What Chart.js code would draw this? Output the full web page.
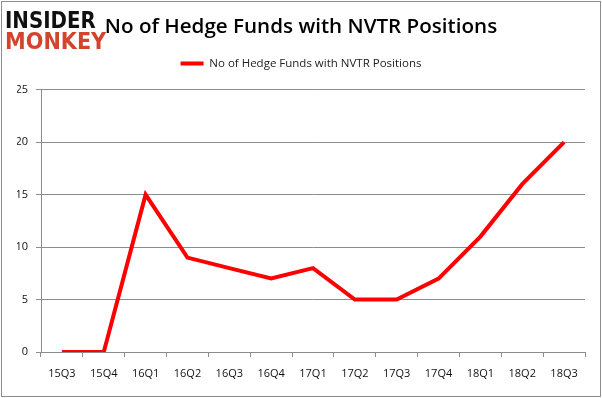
<!DOCTYPE html>
<html><head><meta charset="utf-8">
<script src="https://cdn.jsdelivr.net/npm/chart.js@4"></script>
<style>html,body{margin:0;padding:0;background:#fff}#wrap{width:602px;height:398px;position:relative}</style>
</head><body><div id="wrap"><canvas id="c" width="602" height="398"></canvas></div>
<script>
const categories = ["15Q3","15Q4","16Q1","16Q2","16Q3","16Q4","17Q1","17Q2","17Q3","17Q4","18Q1","18Q2","18Q3"];
const hedgeFunds = [0,0,15,9,8,7,8,5,5,7,11,16,20];
const seriesName = "No of Hedge Funds with NVTR Positions";
const titleText = "No of Hedge Funds with NVTR Positions";
const yTicks = [0,5,10,15,20,25];

const decor = {
  id:'decor',
  beforeInit(chart){
    const fit = chart.legend.fit;
    chart.legend.fit = function(){ fit.call(this); this.height += 10.5; };
  },
  beforeDraw(chart){
    const c = chart.ctx;
    c.save();
    c.fillStyle='#fff'; c.fillRect(0,0,chart.width,chart.height);
    c.restore();
  },
  afterDraw(chart){
    const c = chart.ctx;
    c.save();
    c.strokeStyle='#8c8c8c'; c.lineWidth=1;
    c.strokeRect(1.5,1.5,chart.width-3,chart.height-3);
    c.font='900 20px "DejaVu Sans"';
    c.textBaseline='alphabetic';
    c.fillStyle='#111';
    c.save(); c.translate(5,28); c.scale(0.99,1.15); c.fillText('INSIDER',0,0); c.restore();
    c.fillStyle='#d2452c';
    c.save(); c.translate(5,49); c.scale(1.04,1.15); c.fillText('MONKEY',0,0); c.restore();
    c.restore();
  }
};

new Chart(document.getElementById('c'),{
  type:'line',
  data:{labels:categories,datasets:[{label:seriesName,data:hedgeFunds,borderColor:'#ff0000',backgroundColor:'#ff0000',borderWidth:4,pointRadius:0,tension:0,fill:false}]},
  options:{
    responsive:false,animation:false,
    layout:{padding:{left:17,right:17,top:0,bottom:0}},
    plugins:{
      title:{display:true,text:titleText,font:{family:'"Open Sans"',size:20.6,weight:'600'},color:'#000',padding:{top:15,bottom:10}},
      legend:{display:true,labels:{usePointStyle:true,pointStyle:'line',pointStyleWidth:23,font:{family:'"Open Sans"',size:11.5},color:'#222',padding:8}},
      tooltip:{enabled:false}
    },
    scales:{
      x:{offset:true,grid:{display:true,drawOnChartArea:false,offset:true,tickLength:5,color:'#8c8c8c'},border:{color:'#8c8c8c'},
         ticks:{font:{family:'"Open Sans"',size:11},color:'#111',padding:10,maxRotation:0},
         afterFit(s){s.height=46;}},
      y:{min:0,max:25,afterBuildTicks(s){s.ticks=yTicks.map(v=>({value:v}));},
         grid:{color:'#8c8c8c',tickLength:5},border:{color:'#8c8c8c'},
         ticks:{font:{family:'"Open Sans"',size:11},color:'#111',padding:8},
         afterFit(s){s.width=24;}}
    }
  },
  plugins:[decor]
});
</script></body></html>
